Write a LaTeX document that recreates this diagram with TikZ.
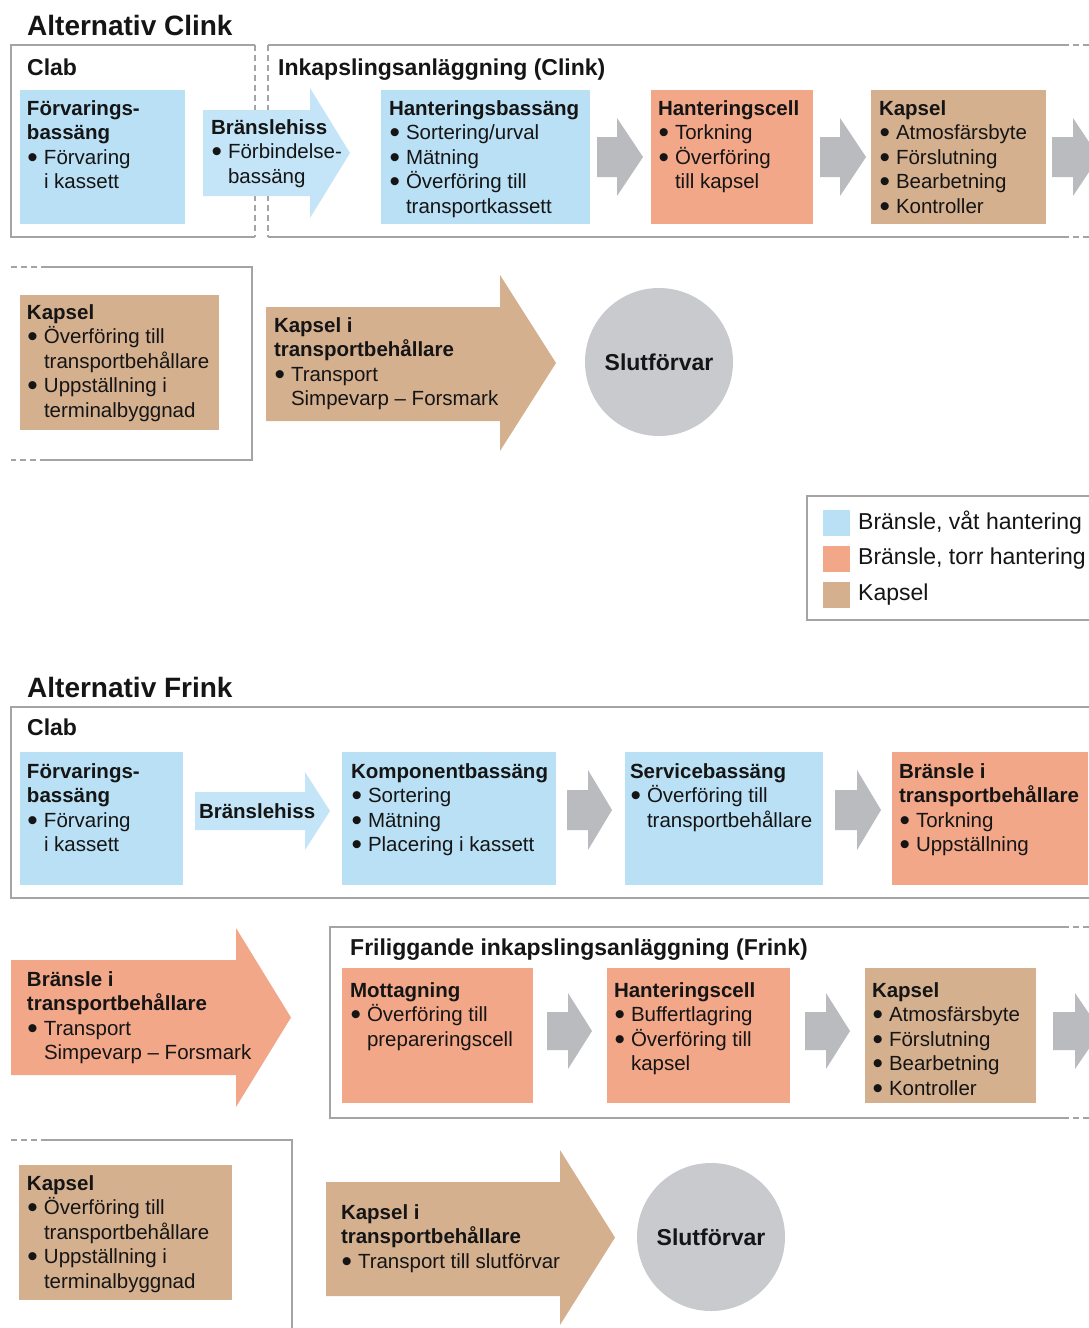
\documentclass[tikz,border=0pt]{standalone}
\usepackage{fontspec}
\setmainfont{Liberation Sans}
\definecolor{wetc}{HTML}{BAE0F5}
\definecolor{wetl}{HTML}{C4E5F7}
\definecolor{dryc}{HTML}{F3A789}
\definecolor{capc}{HTML}{D5B08F}
\definecolor{garr}{HTML}{B9BBBE}
\definecolor{circ}{HTML}{C8CACE}
\definecolor{frm}{HTML}{A4A4A4}
\definecolor{tx}{HTML}{151515}
\newcommand\bu{\makebox[17pt][l]{\hspace{0.5pt}\raisebox{-3pt}[0pt][0pt]{\scalebox{1.45}{\textbullet}}}}
\newcommand\ii{\hspace*{17pt}}
\newcommand\tb[1]{\begin{tabular}[t]{@{}l@{}}#1\end{tabular}}
\newcommand\barrow[8]{% x1 x2 x3 ytop ybot htop hbot color
  \fill[fill=#8] (#1,#4) -- (#2,#4) -- (#2,#6) -- (#3,{(#6+#7)/2}) -- (#2,#7) -- (#2,#5) -- (#1,#5) -- cycle;}
\begin{document}
\begin{tikzpicture}[x=1pt,y=-1pt,
  txt/.style={anchor=base west,inner sep=0pt,outer sep=0pt,text=tx,font=\fontsize{20.5}{24.5}\selectfont},
  ttl/.style={anchor=base west,inner sep=0pt,text=tx,font=\fontsize{28}{32}\selectfont\bfseries},
  hdr/.style={anchor=base west,inner sep=0pt,text=tx,font=\fontsize{23}{26}\selectfont\bfseries},
  leg/.style={anchor=west,inner sep=0pt,text=tx,font=\fontsize{23}{27}\selectfont},
  box/.style={anchor=north west,inner sep=0pt,outer sep=0pt,draw=none},
  frame/.style={draw=frm,line width=1.5pt},
  dframe/.style={draw=frm,line width=1.5pt,dash pattern=on 6pt off 4pt},
  sf/.style={circle,fill=circ,inner sep=0pt,minimum size=148pt,text=tx,font=\fontsize{23}{27}\selectfont\bfseries}]
\useasboundingbox (0,0) rectangle (1089,1328);
\fill[white] (0,0) rectangle (1089,1328);

% ================= Alternativ Clink =================
\node[ttl] (tclink) at (27,35) {Alternativ Clink};
% frames
\draw[frame] (255,45) -- (11,45) -- (11,237) -- (255,237);
\draw[dframe] (255,45) -- (255,237);
\draw[dframe] (268,45) -- (268,237);
\draw[frame] (268,45) -- (1063,45);
\draw[frame] (268,237) -- (1063,237);
\draw[dframe] (1063,45) -- (1089,45);
\draw[dframe] (1063,237) -- (1089,237);
\node[hdr] (hclab1) at (27,75) {Clab};
\node[hdr] (hink) at (278,75) {Inkapslingsanläggning (Clink)};

% boxes row 1
\node[box,fill=wetc,minimum width=165pt,minimum height=134pt] (c1) at (20,90) {};
\node[txt] (c1t) at (27,115) {\tb{\textbf{Förvarings-}\\\textbf{bassäng}\\\bu Förvaring\\\ii i kassett}};
\barrow{203}{310}{350}{110}{196}{88}{218}{wetl}
\node[txt] (c2t) at (211,134) {\tb{\textbf{Bränslehiss}\\\bu Förbindelse-\\\ii bassäng}};
\node[box,fill=wetc,minimum width=209pt,minimum height=134pt] (c3) at (381,90) {};
\node[txt] (c3t) at (389,115) {\tb{\textbf{Hanteringsbassäng}\\\bu Sortering/urval\\\bu Mätning\\\bu Överföring till\\\ii transportkassett}};
\barrow{597}{617}{643}{137}{177}{118}{196}{garr}
\node[box,fill=dryc,minimum width=162pt,minimum height=134pt] (c4) at (651,90) {};
\node[txt] (c4t) at (658,115) {\tb{\textbf{Hanteringscell}\\\bu Torkning\\\bu Överföring\\\ii till kapsel}};
\barrow{820}{840}{866}{137}{177}{118}{196}{garr}
\node[box,fill=capc,minimum width=175pt,minimum height=134pt] (c5) at (871,90) {};
\node[txt] (c5t) at (879,115) {\tb{\textbf{Kapsel}\\\bu Atmosfärsbyte\\\bu Förslutning\\\bu Bearbetning\\\bu Kontroller}};
\barrow{1052}{1073}{1099}{137}{177}{118}{196}{garr}

% row 2
\draw[dframe] (11,267) -- (46,267);
\draw[frame] (46,267) -- (252,267) -- (252,460) -- (46,460);
\draw[dframe] (46,460) -- (11,460);
\node[box,fill=capc,minimum width=199pt,minimum height=135pt] (c6) at (20,295) {};
\node[txt] (c6t) at (27,319) {\tb{\textbf{Kapsel}\\\bu Överföring till\\\ii transportbehållare\\\bu Uppställning i\\\ii terminalbyggnad}};
\barrow{266}{500}{556}{307}{421}{275}{451}{capc}
\node[txt] (c7t) at (274,332) {\tb{\textbf{Kapsel i}\\\textbf{transportbehållare}\\\bu Transport\\\ii Simpevarp – Forsmark}};
\node[sf] (sf1) at (659,362) {Slutförvar};

% legend
\draw[frame] (1089,496) -- (807,496) -- (807,620) -- (1089,620);
\node[box,fill=wetc,minimum width=27pt,minimum height=26pt] (l1) at (823,510) {};
\node[box,fill=dryc,minimum width=27pt,minimum height=26pt] (l2) at (823,546) {};
\node[box,fill=capc,minimum width=27pt,minimum height=26pt] (l3) at (823,582) {};
\node[leg] (l1t) at (858,523) {Bränsle, våt hantering};
\node[leg] (l2t) at (858,559) {Bränsle, torr hantering};
\node[leg] (l3t) at (858,595) {Kapsel};

% ================= Alternativ Frink =================
\node[ttl] (tfrink) at (27,697) {Alternativ Frink};
\draw[frame] (1089,707) -- (11,707) -- (11,898) -- (1089,898);
\node[hdr] (hclab2) at (27,735) {Clab};
\node[box,fill=wetc,minimum width=163pt,minimum height=133pt] (f1) at (20,752) {};
\node[txt] (f1t) at (27,778) {\tb{\textbf{Förvarings-}\\\textbf{bassäng}\\\bu Förvaring\\\ii i kassett}};
\barrow{195}{305}{330}{792}{830}{772}{850}{wetl}
\node[txt] (f2t) at (199,818) {\textbf{Bränslehiss}};
\node[box,fill=wetc,minimum width=214pt,minimum height=133pt] (f3) at (342,752) {};
\node[txt] (f3t) at (351,778) {\tb{\textbf{Komponentbassäng}\\\bu Sortering\\\bu Mätning\\\bu Placering i kassett}};
\barrow{567}{588}{612}{790}{830}{770}{850}{garr}
\node[box,fill=wetc,minimum width=198pt,minimum height=133pt] (f4) at (625,752) {};
\node[txt] (f4t) at (630,778) {\tb{\textbf{Servicebassäng}\\\bu Överföring till\\\ii transportbehållare}};
\barrow{835}{857}{881}{790}{830}{770}{850}{garr}
\node[box,fill=dryc,minimum width=196pt,minimum height=133pt] (f5) at (892,752) {};
\node[txt] (f5t) at (899,778) {\tb{\textbf{Bränsle i}\\\textbf{transportbehållare}\\\bu Torkning\\\bu Uppställning}};

% row 2
\barrow{11}{236}{291}{960}{1075}{928}{1107}{dryc}
\node[txt] (f6t) at (27,986) {\tb{\textbf{Bränsle i}\\\textbf{transportbehållare}\\\bu Transport\\\ii Simpevarp – Forsmark}};
\draw[frame] (1063,927) -- (330,927) -- (330,1118) -- (1063,1118);
\draw[dframe] (1063,927) -- (1089,927);
\draw[dframe] (1063,1118) -- (1089,1118);
\node[hdr] (hfri) at (350,955) {Friliggande inkapslingsanläggning (Frink)};
\node[box,fill=dryc,minimum width=191pt,minimum height=135pt] (f7) at (342,968) {};
\node[txt] (f7t) at (350,997) {\tb{\textbf{Mottagning}\\\bu Överföring till\\\ii prepareringscell}};
\barrow{547}{568}{592}{1012}{1050}{993}{1069}{garr}
\node[box,fill=dryc,minimum width=183pt,minimum height=135pt] (f8) at (607,968) {};
\node[txt] (f8t) at (614,997) {\tb{\textbf{Hanteringscell}\\\bu Buffertlagring\\\bu Överföring till\\\ii kapsel}};
\barrow{805}{826}{850}{1012}{1050}{993}{1069}{garr}
\node[box,fill=capc,minimum width=171pt,minimum height=135pt] (f9) at (865,968) {};
\node[txt] (f9t) at (872,997) {\tb{\textbf{Kapsel}\\\bu Atmosfärsbyte\\\bu Förslutning\\\bu Bearbetning\\\bu Kontroller}};
\barrow{1053}{1075}{1101}{1012}{1050}{993}{1069}{garr}

% row 3
\draw[dframe] (11,1140) -- (46,1140);
\draw[frame] (46,1140) -- (292,1140) -- (292,1328);
\node[box,fill=capc,minimum width=213pt,minimum height=135pt] (f10) at (19,1165) {};
\node[txt] (f10t) at (27,1190) {\tb{\textbf{Kapsel}\\\bu Överföring till\\\ii transportbehållare\\\bu Uppställning i\\\ii terminalbyggnad}};
\barrow{326}{560}{615}{1182}{1296}{1150}{1325}{capc}
\node[txt] (f11t) at (341,1219) {\tb{\textbf{Kapsel i}\\\textbf{transportbehållare}\\\bu Transport till slutförvar}};
\node[sf] (sf2) at (711,1237) {Slutförvar};
\end{tikzpicture}
\end{document}
